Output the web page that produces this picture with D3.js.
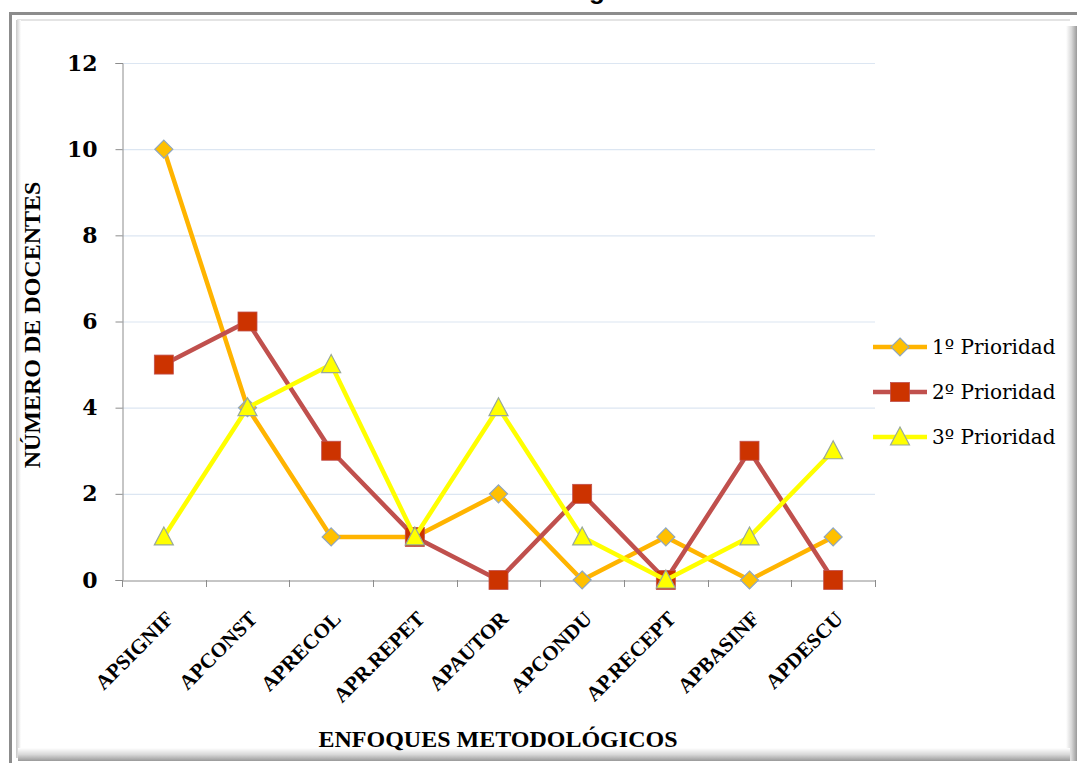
<!DOCTYPE html>
<html>
<head>
<meta charset="utf-8">
<script src="https://cdn.jsdelivr.net/npm/d3@7"></script>
<style>
  html, body { margin: 0; padding: 0; background: #fff; }
  svg { display: block; }
</style>
</head>
<body>
<svg id="chart" width="1077" height="763"></svg>
<script>
// ---- data ----
const categories = ["APSIGNIF", "APCONST", "APRECOL", "APR.REPET", "APAUTOR", "APCONDU", "AP.RECEPT", "APBASINF", "APDESCU"];
const prioridad1 = [10, 4, 1, 1, 2, 0, 1, 0, 1];
const prioridad2 = [5, 6, 3, 1, 0, 2, 0, 3, 0];
const prioridad3 = [1, 4, 5, 1, 4, 1, 0, 1, 3];
const seriesNames = ["1º Prioridad", "2º Prioridad", "3º Prioridad"];
const yTicks = [0, 2, 4, 6, 8, 10, 12];
const xTitle = "ENFOQUES METODOLÓGICOS";
const yTitle = "NÚMERO DE DOCENTES";

const series = [
  { name: seriesNames[0], values: prioridad1, line: "#FFB400", fill: "#FFC000", stroke: "#8FA6C0", shape: "diamond" },
  { name: seriesNames[1], values: prioridad2, line: "#C0504D", fill: "#CC3300", stroke: "#C0504D", shape: "square" },
  { name: seriesNames[2], values: prioridad3, line: "#FFFF00", fill: "#FFFF00", stroke: "#98A89A", shape: "triangle" }
];

const svg = d3.select("#chart");
const W = 1077, H = 763;

// ---- frame ----
const defs = svg.append("defs");
const gR = defs.append("linearGradient").attr("id", "shR").attr("x1", 0).attr("x2", 1).attr("y1", 0).attr("y2", 0);
gR.append("stop").attr("offset", "0").attr("stop-color", "#ffffff");
gR.append("stop").attr("offset", "0.5").attr("stop-color", "#d8d8d8");
gR.append("stop").attr("offset", "1").attr("stop-color", "#9a9a9a");
const gB = defs.append("linearGradient").attr("id", "shB").attr("x1", 0).attr("x2", 0).attr("y1", 0).attr("y2", 1);
gB.append("stop").attr("offset", "0").attr("stop-color", "#ffffff");
gB.append("stop").attr("offset", "0.5").attr("stop-color", "#d8d8d8");
gB.append("stop").attr("offset", "1").attr("stop-color", "#9a9a9a");
const gL = defs.append("linearGradient").attr("id", "shL").attr("x1", 0).attr("x2", 1).attr("y1", 0).attr("y2", 0);
gL.append("stop").attr("offset", "0").attr("stop-color", "#c8c8c8");
gL.append("stop").attr("offset", "1").attr("stop-color", "#ffffff");

svg.append("rect").attr("x", 0).attr("y", 0).attr("width", W).attr("height", H).attr("fill", "#fff");
// title remnant (cut off at top, as in the reference)
svg.append("text").attr("x", 597).attr("y", -1).attr("text-anchor", "middle")
  .attr("font-family", "Liberation Sans, Arial, sans-serif").attr("font-weight", "bold").attr("font-size", 26)
  .attr("fill", "#000").text("g");
svg.append("rect").attr("x", 9).attr("y", 12).attr("width", W - 9).attr("height", 3).attr("fill", "#8c8c8c");
svg.append("rect").attr("x", 9).attr("y", 12).attr("width", 3).attr("height", H - 12).attr("fill", "#8c8c8c");
// inner panel
svg.append("rect").attr("x", 17).attr("y", 19).attr("width", 1053).attr("height", 2).attr("fill", "#e4e4e4");
svg.append("rect").attr("x", 16).attr("y", 20).attr("width", 5).attr("height", 738).attr("fill", "url(#shL)");
svg.append("rect").attr("x", 1066).attr("y", 26).attr("width", 11).attr("height", 735).attr("fill", "url(#shR)");
svg.append("rect").attr("x", 18).attr("y", 748).attr("width", 1052).attr("height", 13).attr("fill", "url(#shB)");

// ---- scales ----
const x = d3.scaleBand().domain(categories).range([122, 875]);
const y = d3.scaleLinear().domain([0, 12]).range([580, 63]);
const cx = d => x(d) + x.bandwidth() / 2;

// grid
svg.append("g").selectAll("line").data(yTicks.filter(t => t > 0)).join("line")
  .attr("x1", 122).attr("x2", 875).attr("y1", d => y(d) + 0.5).attr("y2", d => y(d) + 0.5)
  .attr("stroke", "#DCE6F2").attr("stroke-width", 1.2);

// y axis
const yAxis = svg.append("g").attr("transform", "translate(122.5,0)")
  .call(d3.axisLeft(y).tickValues(yTicks).tickSize(7).tickPadding(18).tickFormat(d3.format("d")));
yAxis.select(".domain").attr("stroke", "#8c8c8c");
yAxis.selectAll(".tick line").attr("stroke", "#8c8c8c");
yAxis.selectAll(".tick text").attr("font-family", "DejaVu Serif, serif").attr("font-weight", "bold")
  .attr("font-size", 22).attr("fill", "#000");

// x axis
const xAxis = svg.append("g").attr("transform", "translate(0,580.5)")
  .call(d3.axisBottom(x).tickSize(0).tickFormat(""));
xAxis.select(".domain").attr("stroke", "#8c8c8c");
const bounds = categories.map(c => x(c)).concat([875]);
svg.append("g").selectAll("line").data(bounds).join("line")
  .attr("x1", d => Math.round(d) + 0.5).attr("x2", d => Math.round(d) + 0.5)
  .attr("y1", 580).attr("y2", 587).attr("stroke", "#8c8c8c");

svg.append("g").selectAll("text").data(categories).join("text")
  .attr("transform", d => `translate(${cx(d) + 11},${620}) rotate(-45)`)
  .attr("text-anchor", "end")
  .attr("font-family", "Liberation Serif, serif").attr("font-weight", "bold").attr("font-size", 21)
  .attr("fill", "#000").text(d => d);

// axis titles
svg.append("text").attr("x", 498).attr("y", 747).attr("text-anchor", "middle")
  .attr("font-family", "Liberation Serif, serif").attr("font-weight", "bold").attr("font-size", 24)
  .attr("fill", "#000").text(xTitle);
svg.append("text").attr("transform", "translate(40,325) rotate(-90)").attr("text-anchor", "middle")
  .attr("font-family", "Liberation Serif, serif").attr("font-weight", "bold").attr("font-size", 24)
  .attr("fill", "#000").text(yTitle);

// ---- markers ----
function drawMarker(g, shape, s) {
  if (shape === "diamond") {
    g.append("path").attr("d", "M0,-9L9,0L0,9L-9,0Z").attr("fill", s.fill).attr("stroke", s.stroke).attr("stroke-width", 1.2);
  } else if (shape === "square") {
    g.append("rect").attr("x", -9.5).attr("y", -9.5).attr("width", 19).attr("height", 19).attr("fill", s.fill).attr("stroke", s.stroke).attr("stroke-width", 0.8);
  } else {
    g.append("path").attr("d", "M0,-10L9.5,8L-9.5,8Z").attr("fill", s.fill).attr("stroke", s.stroke).attr("stroke-width", 1.2);
  }
}

const line = d3.line().x((d, i) => cx(categories[i])).y(d => y(d));
series.forEach(s => {
  svg.append("path").datum(s.values).attr("d", line).attr("fill", "none")
    .attr("stroke", s.line).attr("stroke-width", 4.5).attr("stroke-linejoin", "round");
  s.values.forEach((v, i) => {
    const g = svg.append("g").attr("transform", `translate(${cx(categories[i])},${y(v)})`);
    drawMarker(g, s.shape, s);
  });
});

// ---- legend ----
const legY = [347, 392, 437];
series.forEach((s, i) => {
  svg.append("line").attr("x1", 873).attr("x2", 927).attr("y1", legY[i]).attr("y2", legY[i])
    .attr("stroke", s.line).attr("stroke-width", 4.5);
  const g = svg.append("g").attr("transform", `translate(900,${legY[i]})`);
  drawMarker(g, s.shape, s);
  svg.append("text").attr("x", 932).attr("y", legY[i]).attr("dy", "0.35em")
    .attr("font-family", "DejaVu Serif, serif").attr("font-size", 20).attr("fill", "#000").text(s.name);
});
</script>
</body>
</html>
